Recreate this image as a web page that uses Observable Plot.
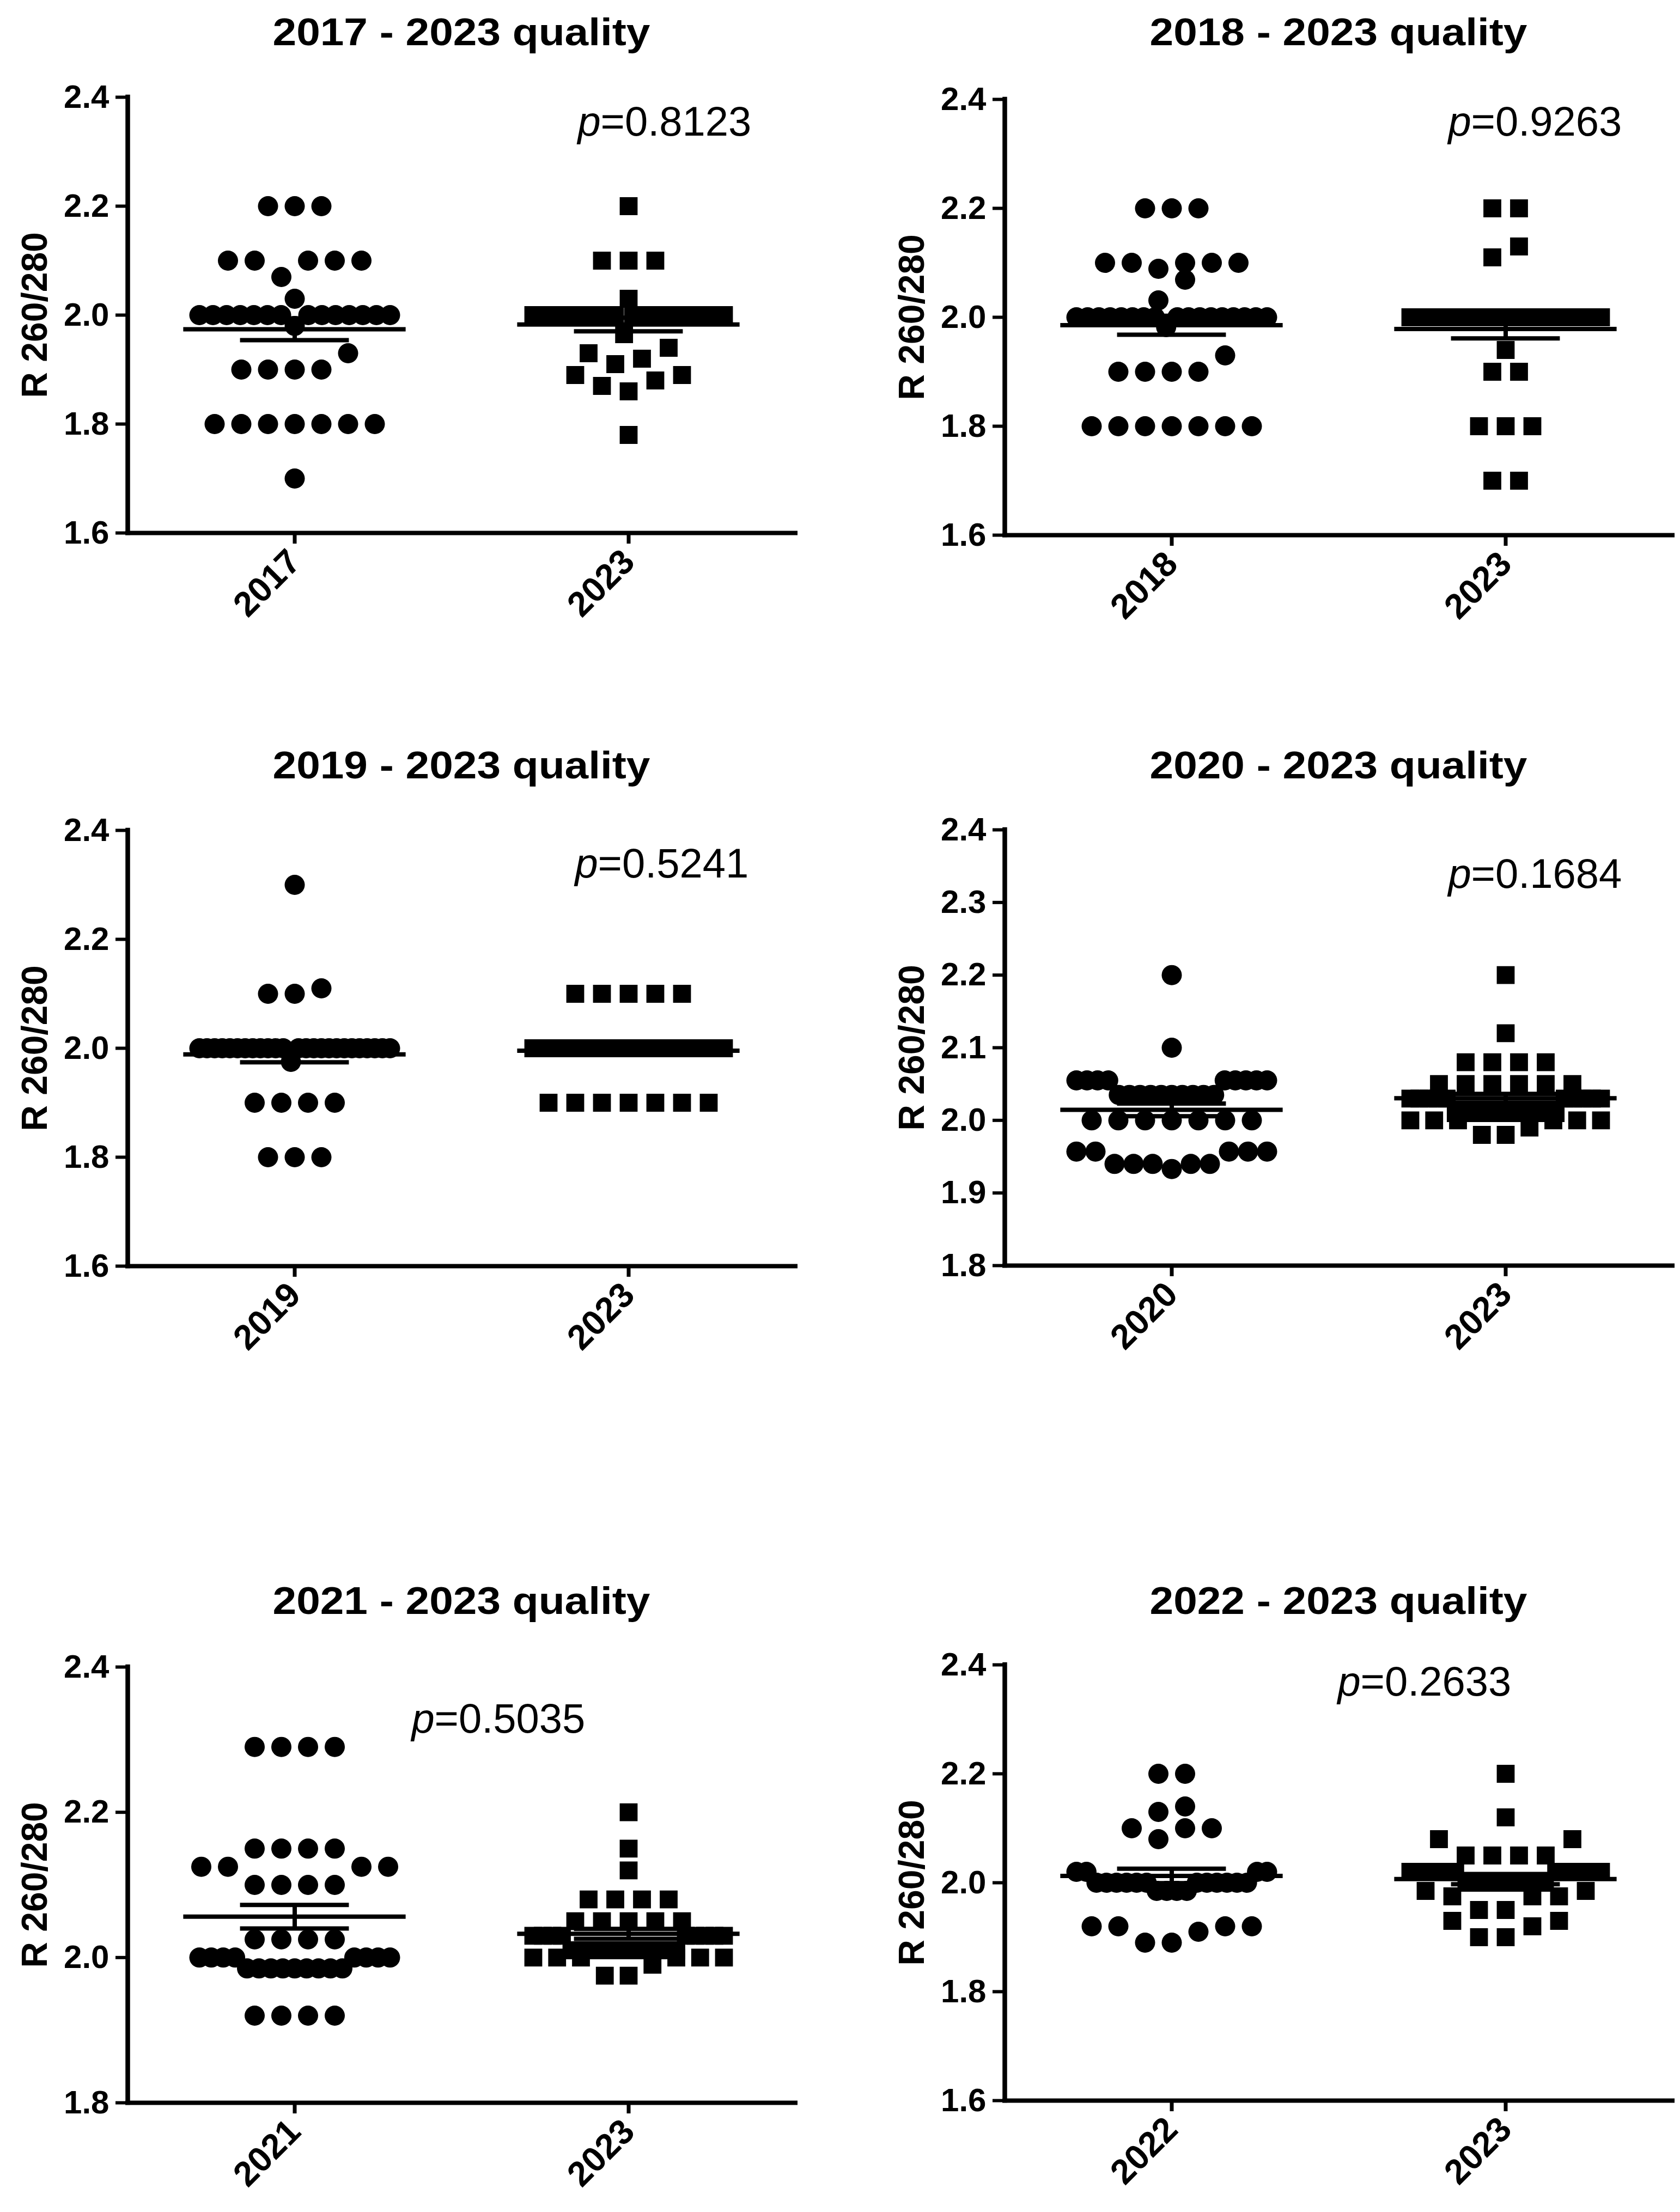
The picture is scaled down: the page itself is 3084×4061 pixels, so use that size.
<!DOCTYPE html>
<html>
<head>
<meta charset="utf-8">
<script src="https://cdn.jsdelivr.net/npm/d3@7"></script>
<script src="https://cdn.jsdelivr.net/npm/@observablehq/plot@0.6"></script>
<style>
  body { margin: 0; background: #fff; }
  #page { position: relative; width: 3084px; height: 4061px; background: #fff; overflow: hidden; }
  .panel { position: absolute; }
  .title {
    position: absolute;
    font-family: "Liberation Sans", Arial, sans-serif;
    font-weight: bold;
    font-size: 70px;
    line-height: 70px;
    text-align: center;
    white-space: nowrap;
    transform: scaleX(1.12);
  }
</style>
</head>
<body>
<div id="page"></div>
<script>
// panel titles, group labels and p values
const titles = [
  "2017 - 2023 quality", "2018 - 2023 quality",
  "2019 - 2023 quality", "2020 - 2023 quality",
  "2021 - 2023 quality", "2022 - 2023 quality"
];
const groupLabels = [
  ["2017", "2023"], ["2018", "2023"],
  ["2019", "2023"], ["2020", "2023"],
  ["2021", "2023"], ["2022", "2023"]
];
const pValues = ["0.8123", "0.9263", "0.5241", "0.1684", "0.5035", "0.2633"];
const yLabel = "R 260/280";

const yDomains = [[1.6, 2.4], [1.6, 2.4], [1.6, 2.4], [1.8, 2.4], [1.8, 2.4], [1.6, 2.4]];
const yTicks = [
  [1.6, 1.8, 2.0, 2.2, 2.4],
  [1.6, 1.8, 2.0, 2.2, 2.4],
  [1.6, 1.8, 2.0, 2.2, 2.4],
  [1.8, 1.9, 2.0, 2.1, 2.2, 2.3, 2.4],
  [1.8, 2.0, 2.2, 2.4],
  [1.6, 1.8, 2.0, 2.2, 2.4]
];

// R 260/280 values, as [value, how many]
const r2017 = [[2.2, 3], [2.1, 5], [2.07, 1], [2.03, 1], [2.0, 14], [1.98, 1], [1.93, 1], [1.9, 4], [1.8, 7], [1.7, 1]];
const r2023a = [[2.2, 1], [2.1, 3], [2.03, 1], [2.0, 21], [1.965, 1], [1.94, 1], [1.93, 1], [1.92, 1], [1.91, 1],
  [1.89, 2], [1.88, 1], [1.87, 1], [1.86, 1], [1.78, 1]];

const r2018 = [[2.2, 3], [2.1, 5], [2.089, 1], [2.069, 1], [2.031, 1], [2.0, 17], [1.982, 1], [1.93, 1], [1.9, 4], [1.8, 7]];
const r2023b = [[2.2, 2], [2.13, 1], [2.11, 1], [2.0, 26], [1.94, 1], [1.9, 2], [1.8, 3], [1.7, 2]];

const r2019 = [[2.3, 1], [2.11, 1], [2.1, 2], [2.0, 25], [1.975, 1], [1.9, 4], [1.8, 3]];
const r2023c = [[2.1, 5], [2.0, 32], [1.9, 7]];

const r2020 = [[2.2, 1], [2.1, 1], [2.055, 9], [2.035, 10], [2.0, 7], [1.957, 5], [1.94, 5], [1.933, 1]];
const r2023d = [[2.2, 1], [2.12, 1], [2.08, 4], [2.05, 6], [2.03, 10], [2.01, 12], [2.0, 6], [1.99, 1], [1.98, 2]];

const r2021 = [[2.29, 4], [2.15, 4], [2.125, 4], [2.1, 4], [2.025, 4], [2.0, 8], [1.985, 9], [1.92, 4]];
const r2023e = [[2.2, 1], [2.15, 1], [2.12, 1], [2.08, 4], [2.05, 5], [2.03, 9], [2.01, 12], [2.0, 6], [1.99, 1], [1.975, 2]];

const r2022 = [[2.2, 2], [2.14, 1], [2.13, 1], [2.1, 3], [2.08, 1], [2.02, 4], [2.0, 12], [1.985, 4], [1.92, 4], [1.91, 1], [1.89, 2]];
const r2023f = [[2.2, 1], [2.12, 1], [2.08, 2], [2.05, 4], [2.02, 10], [2.0, 8], [1.985, 2], [1.975, 3], [1.95, 2],
  [1.93, 2], [1.92, 1], [1.9, 2]];

const groupValues = [
  [r2017, r2023a], [r2018, r2023b], [r2019, r2023c],
  [r2020, r2023d], [r2021, r2023e], [r2022, r2023f]
];

// page layout (pixels)
const W = 1542, PLOT_W = 1226, PLOT_H = 800, MT = 40, MB = 230;
const panelPos = [
  {left: 0, top: 178, ml: 234, titleY: 57, pdx: 826, pdy: 70},
  {left: 1542, top: 182, ml: 302, titleY: 57, pdx: 814, pdy: 66},
  {left: 0, top: 1524, ml: 234, titleY: 1403, pdx: 821, pdy: 86},
  {left: 1542, top: 1523, ml: 302, titleY: 1403, pdx: 814, pdy: 106},
  {left: 0, top: 3060, ml: 234, titleY: 2937, pdx: 521, pdy: 120},
  {left: 1542, top: 3056, ml: 302, titleY: 2937, pdx: 611, pdy: 56}
];

const expand = pairs => pairs.flatMap(([v, n]) => Array(n).fill(v));

// scatter layout like the prism dot plot: values close together share a row,
// lowest value in the middle, the rest alternating outwards
function scatterRow(values, gi, binH, pxPerX) {
  const sorted = values.slice().sort((a, b) => a - b);
  const bins = [];
  for (const v of sorted) {
    const last = bins[bins.length - 1];
    if (last && v - last[0] < binH - 1e-9) last.push(v);
    else bins.push([v]);
  }
  const out = [];
  for (const bin of bins) {
    const n = bin.length;
    const step = n > 1 ? Math.min(49, 350 / (n - 1)) : 0;
    const slots = d3.range(n).map(i => i - (n - 1) / 2)
      .sort((a, b) => Math.abs(a) - Math.abs(b) || a - b);
    bin.forEach((v, i) => out.push({value: v, x: gi + slots[i] * step / pxPerX}));
  }
  return out;
}

// mean line with SEM whiskers
function summaryMarks(stats) {
  const bars = stats.flatMap(d => [{i: d.i, v: d.mean - d.sem}, {i: d.i, v: d.mean + d.sem}]);
  return [
    Plot.ruleX(stats, {x: "i", y1: d => d.mean - d.sem, y2: d => d.mean + d.sem, strokeWidth: 8}),
    Plot.ruleY(bars, {y: "v", x1: d => d.i - 0.163, x2: d => d.i + 0.163, strokeWidth: 8}),
    Plot.ruleY(stats, {y: "mean", x1: d => d.i - 0.333, x2: d => d.i + 0.333, strokeWidth: 8})
  ];
}

const page = document.getElementById("page");

titles.forEach((title, k) => {
  const pos = panelPos[k];
  const [y0, y1] = yDomains[k];
  const pxPerX = PLOT_W / 2;
  const pxPerY = PLOT_H / (y1 - y0);
  const binH = 40 / pxPerY;

  const vals = groupValues[k].map(expand);
  const circles = scatterRow(vals[0], 0, binH, pxPerX);
  const squares = scatterRow(vals[1], 1, binH, pxPerX);
  const stats = vals.map((v, i) => ({i, mean: d3.mean(v), sem: d3.deviation(v) / Math.sqrt(v.length)}));

  const svg = Plot.plot({
    width: W,
    height: MT + PLOT_H + MB,
    marginTop: MT,
    marginBottom: MB,
    marginLeft: pos.ml,
    marginRight: W - pos.ml - PLOT_W,
    style: {
      fontFamily: "'Liberation Sans', Arial, sans-serif",
      fontSize: "60px",
      fontWeight: "bold",
      color: "#000",
      background: "transparent",
      overflow: "visible"
    },
    x: {domain: [-0.5, 1.5]},
    y: {domain: [y0, y1]},
    marks: [
      Plot.dot(circles, {x: "x", y: "value", r: 18.5, symbol: "circle", fill: "#000", stroke: "none"}),
      Plot.dot(squares, {x: "x", y: "value", r: 18.5, symbol: "square", fill: "#000", stroke: "none"}),
      ...summaryMarks(stats),
      Plot.axisY(yTicks[k], {tickSize: 22, tickPadding: 12, tickFormat: d3.format(".1f"), strokeWidth: 6, fontSize: 60}),
      Plot.axisX([0, 1], {
        tickSize: 20, tickPadding: 22, tickRotate: -45, strokeWidth: 7, fontSize: 64,
        tickFormat: i => groupLabels[k][i]
      }),
      Plot.ruleX([-0.5], {y1: y0, y2: y1, strokeWidth: 8.5, strokeLinecap: "square"}),
      Plot.ruleY([y0], {x1: -0.5, x2: 1.5, strokeWidth: 8, strokeLinecap: "square"}),
      Plot.text([yLabel], {
        frameAnchor: "left", rotate: -90, dx: -170, textAnchor: "middle",
        fontSize: 66, fontWeight: "bold"
      }),
      Plot.text(["p"], {
        frameAnchor: "top-left", dx: pos.pdx, dy: pos.pdy, textAnchor: "start", lineAnchor: "bottom",
        fontSize: 76, fontWeight: "normal", fontStyle: "italic"
      }),
      Plot.text([pValues[k]], {
        frameAnchor: "top-left", dx: pos.pdx + 42, dy: pos.pdy, textAnchor: "start", lineAnchor: "bottom",
        text: d => "=" + d, fontSize: 76, fontWeight: "normal"
      })
    ]
  });

  const div = document.createElement("div");
  div.className = "panel";
  div.style.left = pos.left + "px";
  div.style.top = (pos.top - MT) + "px";
  div.appendChild(svg);
  page.appendChild(div);

  const t = document.createElement("div");
  t.className = "title";
  t.textContent = title;
  t.style.left = (pos.left + pos.ml) + "px";
  t.style.width = PLOT_W + "px";
  t.style.top = (pos.titleY - 33) + "px";
  page.appendChild(t);
});
</script>
</body>
</html>
